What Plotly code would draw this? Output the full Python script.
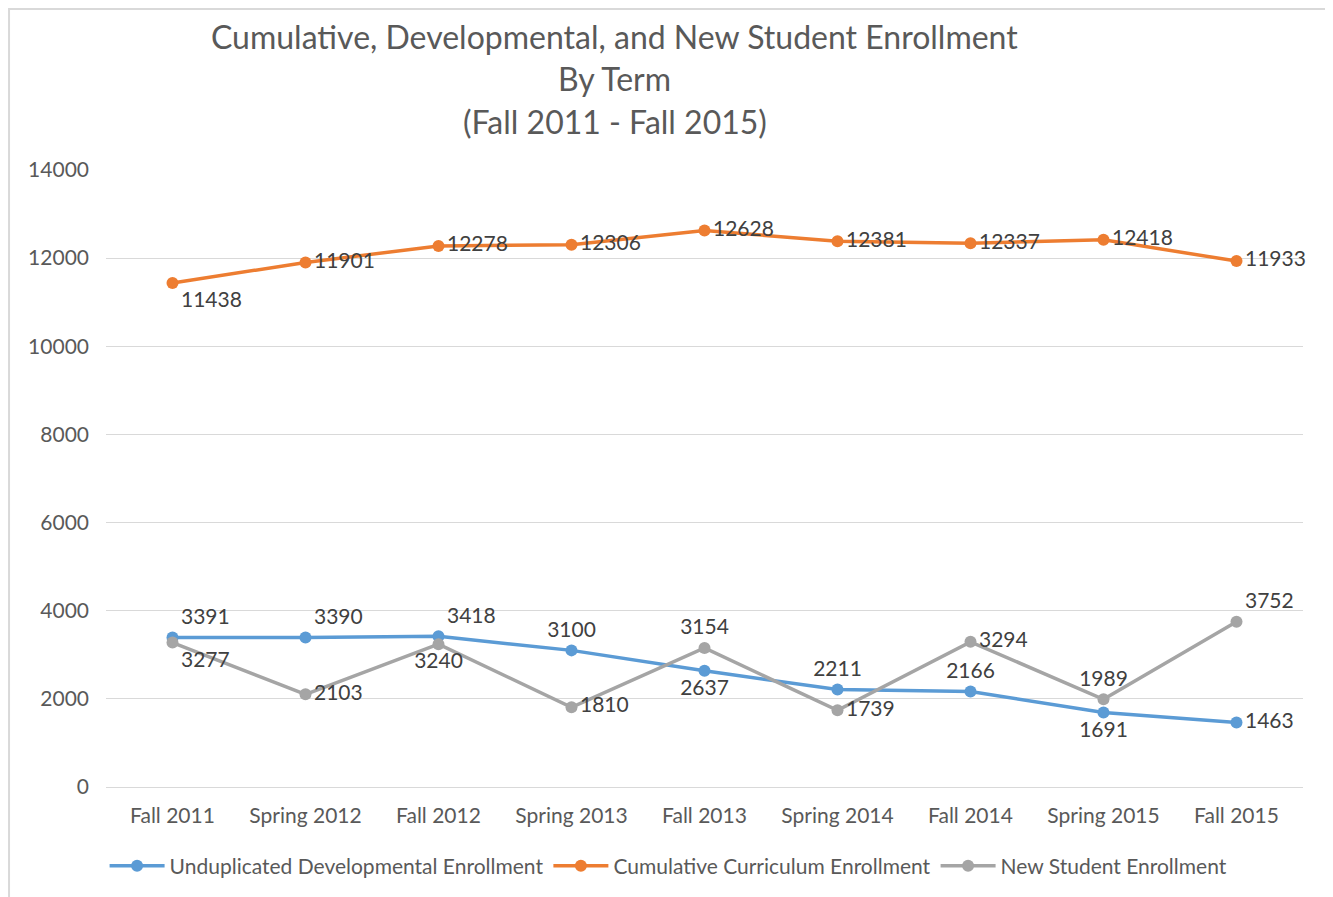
import plotly.graph_objects as go

terms = ["Fall 2011", "Spring 2012", "Fall 2012", "Spring 2013", "Fall 2013",
         "Spring 2014", "Fall 2014", "Spring 2015", "Fall 2015"]
developmental = [3391, 3390, 3418, 3100, 2637, 2211, 2166, 1691, 1463]
curriculum = [11438, 11901, 12278, 12306, 12628, 12381, 12337, 12418, 11933]
new_students = [3277, 2103, 3240, 1810, 3154, 1739, 3294, 1989, 3752]

names = ["Unduplicated Developmental Enrollment",
         "Cumulative Curriculum Enrollment",
         "New Student Enrollment"]
colors = ["#5B9BD5", "#ED7D31", "#A5A5A5"]
title_lines = ["Cumulative, Developmental, and New Student Enrollment",
               "By Term",
               "(Fall 2011 - Fall 2015)"]

pos_dev = ["top right", "top right", "top right", "top center", "bottom center",
           "top center", "top center", "bottom center", "middle right"]
pos_cur = ["bottom right", "middle right", "middle right", "middle right", "middle right",
           "middle right", "middle right", "middle right", "middle right"]
pos_new = ["bottom right", "middle right", "bottom center", "middle right", "top center",
           "middle right", "middle right", "top center", "top right"]

FONT = "Lato, sans-serif"

fig = go.Figure()
for vals, name, col, pos in [(developmental, names[0], colors[0], pos_dev),
                             (curriculum, names[1], colors[1], pos_cur),
                             (new_students, names[2], colors[2], pos_new)]:
    fig.add_trace(go.Scatter(
        x=list(range(len(terms))), y=vals, name=name,
        mode="lines+markers+text",
        line=dict(color=col, width=3.5),
        marker=dict(color=col, size=12),
        text=[str(v) for v in vals],
        textposition=pos,
        textfont=dict(family=FONT, size=21, color="#404040"),
        cliponaxis=False,
    ))

for line, ypos in zip(title_lines, [1.217, 1.149, 1.079]):
    fig.add_annotation(
        text=line, xref="paper", yref="paper", x=0.425, y=ypos,
        xanchor="center", yanchor="middle", showarrow=False,
        font=dict(family=FONT, size=32, color="#595959"),
    )

# chart frame (left, top and right edges)
fig.add_shape(type="path", xref="paper", yref="paper",
              path="M -0.081,-0.3 L -0.081,1.261 L 1.020,1.261 L 1.020,-0.3",
              line=dict(color="#d9d9d9", width=2))

fig.update_layout(
    width=1333, height=897,
    paper_bgcolor="white", plot_bgcolor="white",
    margin=dict(l=98, r=38, t=162, b=118),
    font=dict(family=FONT, color="#595959"),
    xaxis=dict(
        tickmode="array", tickvals=list(range(len(terms))), ticktext=terms,
        range=[-0.5, 8.5], showgrid=False, zeroline=False,
        showline=True, linecolor="#d9d9d9", linewidth=1,
        tickfont=dict(size=21, color="#595959"), ticks="",
        ticklabelstandoff=10,
    ),
    yaxis=dict(
        range=[0, 14000], dtick=2000, showgrid=True, gridcolor="#d9d9d9",
        zeroline=False, showline=False, tickformat="d",
        tickfont=dict(size=21, color="#595959"), ticks="",
        ticklabelstandoff=16,
    ),
    legend=dict(
        orientation="h", x=0.47, xanchor="center", y=-0.095, yanchor="top",
        font=dict(size=21, color="#595959"), itemwidth=55,
    ),
    showlegend=True,
)

fig.write_html("out.html")
